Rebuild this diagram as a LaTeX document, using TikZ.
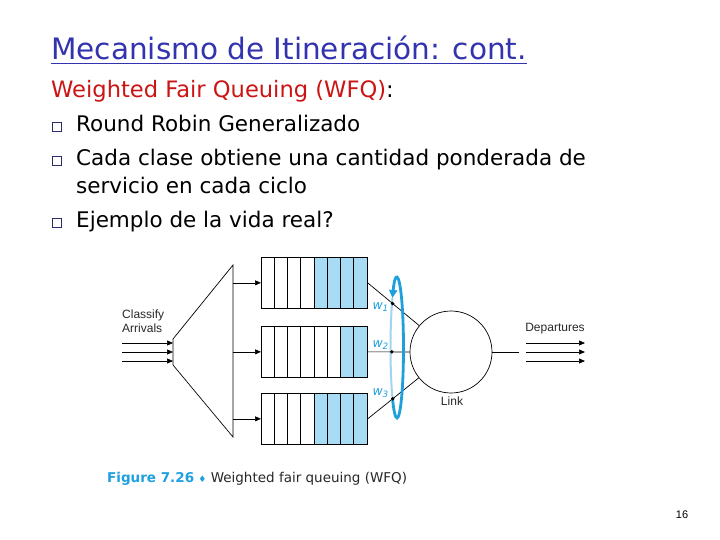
\documentclass[tikz,border=0pt]{standalone}
\usepackage{fontspec}
\setmainfont{DejaVu Sans}
\newfontfamily\figfont{Liberation Sans}
\usetikzlibrary{arrows.meta,calc}
\definecolor{titleblue}{RGB}{51,51,175}
\definecolor{wfqred}{RGB}{204,20,20}
\definecolor{bulletnavy}{RGB}{45,45,110}
\definecolor{qblue}{RGB}{168,220,245}
\definecolor{loopblue}{RGB}{30,160,220}
\definecolor{loopfaint}{RGB}{160,212,240}
\definecolor{capblue}{RGB}{30,160,225}
\definecolor{figgray}{RGB}{40,40,40}
\begin{document}
\begin{tikzpicture}[x=1pt,y=-1pt,
  every node/.style={inner sep=0pt},
  slidetext/.style={anchor=base west, font=\fontsize{21.5}{26}\selectfont},
  bulletbox/.style={draw=bulletnavy, line width=1.1pt, minimum size=8.5pt, anchor=south west},
  queue/.style={draw=black, line width=0.7pt, minimum width=106pt, minimum height=51pt, anchor=north west},
  divider/.style={draw=black, line width=0.6pt},
  wire/.style={draw=black, line width=0.7pt},
  arr/.style={wire, -{Triangle[length=6pt,width=5pt]}},
  figlabel/.style={font=\figfont\fontsize{12}{14}\selectfont, text=figgray},
  wlabel/.style={font=\fontsize{12.5}{14}\selectfont, text=loopblue, anchor=base east},
  wdot/.style={fill=black}
]
\useasboundingbox (0,0) rectangle (720,540);
\fill[white] (0,0) rectangle (720,540);

% title
\node[anchor=base west, font=\fontsize{29.5}{33}\selectfont, text=titleblue] (title) at (51,60) {Mecanismo de Itineración: cont.};
\draw[titleblue, line width=1.3pt] ([yshift=-3.5pt]title.base west) -- ([yshift=-3.5pt]title.base east);

% red heading
\node[anchor=base west, font=\fontsize{22.6}{27}\selectfont] (wfq) at (51,98) {\textcolor{wfqred}{Weighted Fair Queuing (WFQ)}:};

% bullets
\node[bulletbox] (b1) at (52,132) {};
\node[slidetext] (t1) at (76,132) {Round Robin Generalizado};
\node[bulletbox] (b2) at (52,166) {};
\node[slidetext] (t2) at (76,166) {Cada clase obtiene una cantidad ponderada de};
\node[slidetext] (t3) at (76,194) {servicio en cada ciclo};
\node[bulletbox] (b3) at (52,228) {};
\node[slidetext] (t4) at (76,228) {Ejemplo de la vida real?};

% queues
\foreach \qy/\bs in {257/4,326/6,393/4} {
  \fill[qblue] ({261+\bs*13.25},\qy) rectangle (367,{\qy+51});
  \foreach \i in {1,...,7} \draw[divider] ({261+\i*13.25},\qy) -- ++(0,51);
}
\node[queue] (q1) at (261,257) {};
\node[queue] (q2) at (261,326) {};
\node[queue] (q3) at (261,393) {};

% classifier
\coordinate (cl1) at (173,339);
\coordinate (cl2) at (173,365);
\coordinate (cr1) at (233,265);
\coordinate (cr2) at (233,437);
\draw[wire] (cl1) -- (cr1) -- (cr2) -- (cl2) -- cycle;
\draw[arr] (q1.west -| cr1) -- (q1.west);
\draw[arr] (q2.west -| cr1) -- (q2.west);
\draw[arr] (q3.west -| cr1) -- (q3.west);

% arrivals
\coordinate (in1) at (122,343);
\coordinate (in2) at (122,352);
\coordinate (in3) at (122,361);
\foreach \k in {1,2,3} \draw[arr] (in\k) -- (in\k -| cl1);
\node[figlabel, align=left, anchor=north west] (classify) at (122,310) {Classify\\Arrivals};

% link
\node[circle, wire, minimum size=82pt] (link) at (451,352) {};
\coordinate (lc) at (397,348);
\draw[loopfaint, line width=2pt] ([shift={(134.4:6.5 and 70)}]lc) arc[start angle=134.4, end angle=225.6, x radius=6.5, y radius=70];
\draw[wire] (q1.east) -- (link);
\draw[wire] (q2.east) -- (link);
\draw[wire] (q3.east) -- (link);
\draw[loopblue, line width=2.8pt, -{Triangle[length=8pt,width=8pt]}] ([shift={(134.4:6.5 and 70)}]lc) arc[start angle=134.4, end angle=-134.4, x radius=6.5, y radius=70];
\coordinate (d1) at ($(q1.east)!0.3!(link.center)$);
\coordinate (d2) at ($(q2.east)!0.29!(link.center)$);
\coordinate (d3) at ($(q3.east)!0.3!(link.center)$);
\foreach \k in {1,2,3} \fill[wdot] (d\k) circle (1.9pt);
\node[wlabel] (w1) at (389,309) {\itshape w\textsubscript{1}};
\node[wlabel] (w2) at (389,347) {\itshape w\textsubscript{2}};
\node[wlabel] (w3) at (389,395) {\itshape w\textsubscript{3}};
\node[figlabel] (linklbl) at (452,401) {Link};

% departures
\coordinate (lo) at (519,352);
\draw[wire] (link.east) -- (lo);
\coordinate (dp1) at (526,343);
\coordinate (dp2) at (526,352);
\coordinate (dp3) at (526,361);
\coordinate (de1) at (585,343);
\coordinate (de2) at (585,352);
\coordinate (de3) at (585,361);
\foreach \k in {1,2,3} \draw[arr] (dp\k) -- (de\k);
\node[figlabel] (dep) at (555,329) {Departures};

% caption
\node[anchor=base west, font=\fontsize{13.5}{16}\selectfont, text=figgray] (cap) at (107,482) {\textcolor{capblue}{\textbf{Figure 7.26}} \textcolor{capblue}{\fontsize{9}{10}\selectfont ♦} Weighted fair queuing (WFQ)};

% page number
\node[font=\figfont\fontsize{11}{13}\selectfont] (pg) at (682,515) {16};
\end{tikzpicture}
\end{document}
